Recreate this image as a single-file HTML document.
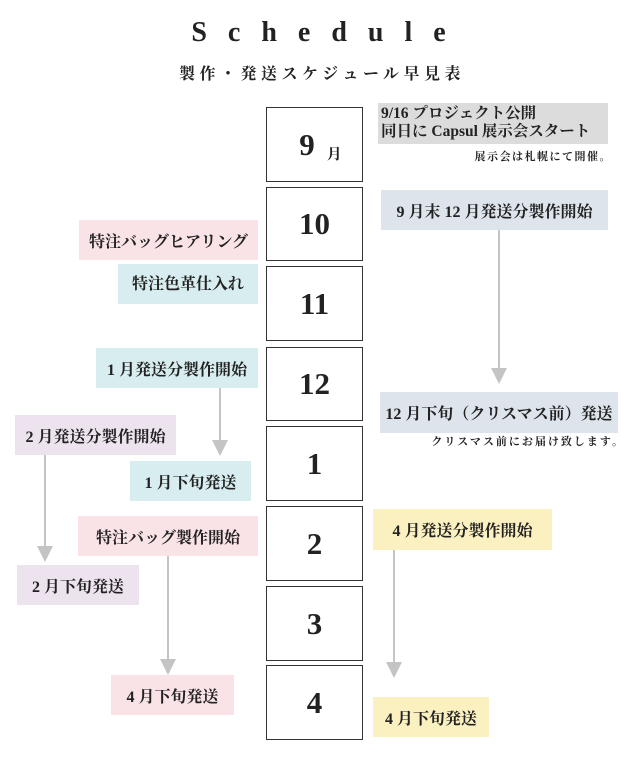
<!DOCTYPE html>
<html><head><meta charset="utf-8"><style>
body{margin:0;width:640px;height:760px;background:#fff;position:relative;overflow:hidden;font-family:"Liberation Serif","Noto Serif CJK SC",serif;color:#222}
.a{position:absolute}
.m{position:absolute;left:266px;width:97px;border:1.5px solid #333;display:flex;align-items:center;justify-content:center;font-size:31px;font-weight:bold;box-sizing:border-box}
.l{position:absolute;height:40px;display:flex;align-items:center;justify-content:center;font-size:16px;font-weight:bold;box-sizing:border-box;white-space:nowrap}
.pk{background:#f9e3e6}.tl{background:#d8edf0}.pu{background:#ede3ef}.ye{background:#fbf0c0}.bg{background:#dde4ec}
</style></head><body>
<div class="a" style="left:0;width:640px;top:17px;text-align:center;font-size:28px;font-weight:bold;letter-spacing:21px;padding-left:18px;box-sizing:border-box">Schedule</div>
<div class="a" style="left:0;width:640px;top:61px;text-align:center;font-size:16px;font-weight:bold;letter-spacing:4.5px;padding-left:4px;box-sizing:border-box">製作・発送スケジュール早見表</div>

<div class="m" style="top:107px;height:75px"><span style="margin-left:12px">9</span><span style="font-size:15px;margin-left:12px;margin-top:18px">月</span></div>
<div class="m" style="top:187px;height:74px">10</div>
<div class="m" style="top:266px;height:75px">11</div>
<div class="m" style="top:347px;height:74px">12</div>
<div class="m" style="top:426px;height:75px">1</div>
<div class="m" style="top:506px;height:75px">2</div>
<div class="m" style="top:586px;height:75px">3</div>
<div class="m" style="top:665px;height:75px">4</div>

<div class="a" style="left:378px;top:103px;width:230px;height:41px;background:#dcdcdc;font-size:15.5px;font-weight:bold;line-height:18px;padding:2px 0 0 3px;box-sizing:border-box;white-space:nowrap">9/16 プロジェクト公開<br>同日に Capsul 展示会スタート</div>
<div class="a" style="left:440px;top:148px;width:172px;text-align:right;font-size:11px;font-weight:bold;letter-spacing:1.5px">展示会は札幌にて開催。</div>
<div class="l bg" style="left:381px;top:190px;width:227px">9 月末 12 月発送分製作開始</div>
<div class="l pk" style="left:79px;top:220px;width:179px">特注バッグヒアリング</div>
<div class="l tl" style="left:118px;top:264px;width:140px;padding-bottom:4px">特注色革仕入れ</div>
<div class="l tl" style="left:96px;top:348px;width:162px">1 月発送分製作開始</div>
<div class="l bg" style="left:380px;top:392px;width:238px;height:41px">12 月下旬（クリスマス前）発送</div>
<div class="a" style="left:400px;top:433px;width:225px;text-align:right;font-size:11px;font-weight:bold;letter-spacing:2px">クリスマス前にお届け致します。</div>
<div class="l pu" style="left:15px;top:415px;width:161px">2 月発送分製作開始</div>
<div class="l tl" style="left:130px;top:461px;width:121px">1 月下旬発送</div>
<div class="l pk" style="left:78px;top:516px;width:180px">特注バッグ製作開始</div>
<div class="l ye" style="left:373px;top:509px;width:179px;height:41px">4 月発送分製作開始</div>
<div class="l pu" style="left:17px;top:565px;width:122px">2 月下旬発送</div>
<div class="l pk" style="left:111px;top:675px;width:123px">4 月下旬発送</div>
<div class="l ye" style="left:373px;top:697px;width:116px">4 月下旬発送</div>

<svg class="a" style="left:0;top:0" width="640" height="760">
<g stroke="#c4c4c4" stroke-width="2" fill="#c4c4c4">
<line x1="499" y1="230" x2="499" y2="372"/><polygon points="491,368 507,368 499,384" stroke="none"/>
<line x1="220" y1="388" x2="220" y2="444"/><polygon points="212,440 228,440 220,456" stroke="none"/>
<line x1="45" y1="455" x2="45" y2="550"/><polygon points="37,546 53,546 45,562" stroke="none"/>
<line x1="168" y1="556" x2="168" y2="663"/><polygon points="160,659 176,659 168,675" stroke="none"/>
<line x1="394" y1="550" x2="394" y2="666"/><polygon points="386,662 402,662 394,678" stroke="none"/>
</g></svg>
</body></html>
